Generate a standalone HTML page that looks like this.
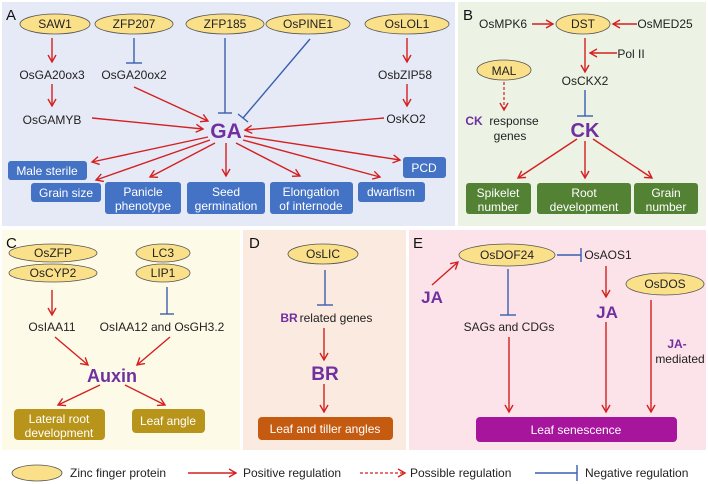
<!DOCTYPE html>
<html><head><meta charset="utf-8"><style>
body{margin:0;background:#fff}
svg{display:block;font-family:"Liberation Sans",sans-serif}
</style></head><body>
<svg width="708" height="484" viewBox="0 0 708 484" xmlns="http://www.w3.org/2000/svg">
<defs>
<marker id="ar" markerWidth="10" markerHeight="10" refX="8" refY="5" orient="auto" markerUnits="userSpaceOnUse"><path d="M1,1 L8,5 L1,9" fill="none" stroke="#d42020" stroke-width="1.4"/></marker>
</defs>
<g>
<rect x="2" y="2" width="453" height="224" fill="#e6eaf6"/>
<rect x="458" y="2" width="248" height="224" fill="#ecf2e4"/>
<rect x="2" y="230" width="238" height="220" fill="#fdfbe8"/>
<rect x="243" y="230" width="163" height="220" fill="#fbeadf"/>
<rect x="409" y="230" width="297" height="220" fill="#fbe3e9"/>
</g>
<g font-size="15" fill="#111"><text x="6" y="20">A</text><text x="463" y="20">B</text><text x="6" y="248">C</text><text x="249" y="248">D</text><text x="413" y="248">E</text></g>

<g fill="#fbe08a" stroke="#555" stroke-width="0.8">
<ellipse cx="55" cy="24" rx="35" ry="10"/>
<ellipse cx="134" cy="24" rx="39" ry="10"/>
<ellipse cx="225" cy="24" rx="39" ry="10"/>
<ellipse cx="308" cy="24" rx="42" ry="10"/>
<ellipse cx="407" cy="24" rx="42" ry="10"/>
<ellipse cx="583" cy="24" rx="27" ry="10"/>
<ellipse cx="504" cy="70" rx="27" ry="10"/>
<ellipse cx="53" cy="253" rx="44" ry="9"/>
<ellipse cx="53" cy="273" rx="44" ry="9"/>
<ellipse cx="163" cy="253" rx="27" ry="9"/>
<ellipse cx="163" cy="273" rx="27" ry="9"/>
<ellipse cx="323" cy="254" rx="35" ry="10"/>
<ellipse cx="507" cy="255" rx="48" ry="11"/>
<ellipse cx="665" cy="284" rx="39" ry="11"/>
<ellipse cx="37" cy="473" rx="25" ry="8"/>
</g>
<g font-size="12" fill="#222" text-anchor="middle">
<text x="55" y="28">SAW1</text><text x="134" y="28">ZFP207</text><text x="225" y="28">ZFP185</text><text x="308" y="28">OsPINE1</text><text x="407" y="28">OsLOL1</text>
<text x="52" y="79">OsGA20ox3</text><text x="134" y="79">OsGA20ox2</text><text x="52" y="124">OsGAMYB</text>
<text x="405" y="79">OsbZIP58</text><text x="406" y="123">OsKO2</text>
<text x="583" y="28">DST</text><text x="503" y="28">OsMPK6</text><text x="665" y="28">OsMED25</text>
<text x="631" y="58">Pol II</text><text x="585" y="85">OsCKX2</text><text x="504" y="75">MAL</text>
<text x="514" y="125">response</text><text x="510" y="140">genes</text>
<text x="53" y="257">OsZFP</text><text x="53" y="277">OsCYP2</text><text x="163" y="257">LC3</text><text x="163" y="277">LIP1</text>
<text x="52" y="331">OsIAA11</text><text x="162" y="331">OsIAA12 and OsGH3.2</text>
<text x="323" y="258">OsLIC</text><text x="336" y="322">related genes</text>
<text x="507" y="259">OsDOF24</text><text x="608" y="259">OsAOS1</text><text x="665" y="288">OsDOS</text>
<text x="509" y="331">SAGs and CDGs</text><text x="680" y="363">mediated</text>
</g>
<g fill="#7030a0" font-weight="bold" text-anchor="middle">
<text x="226" y="138" font-size="21">GA</text>
<text x="585" y="137" font-size="20">CK</text>
<text x="474" y="125" font-size="12">CK</text>
<text x="112" y="382" font-size="18">Auxin</text>
<text x="289" y="322" font-size="12">BR</text>
<text x="325" y="380" font-size="19">BR</text>
<text x="432" y="303" font-size="17">JA</text>
<text x="607" y="318" font-size="17">JA</text>
<text x="677" y="348" font-size="12">JA-</text>
</g>

<g stroke="#d42020" stroke-width="1.4" fill="none" marker-end="url(#ar)">
<line x1="52" y1="38" x2="52" y2="62"/><line x1="52" y1="84" x2="52" y2="106"/>
<line x1="134" y1="87" x2="208" y2="121"/><line x1="92" y1="118" x2="203" y2="129"/>
<line x1="407" y1="38" x2="407" y2="62"/><line x1="407" y1="84" x2="407" y2="106"/>
<line x1="384" y1="118" x2="245" y2="130"/>
<line x1="208" y1="137" x2="92" y2="162"/>
<line x1="210" y1="140" x2="96" y2="180"/>
<line x1="215" y1="143" x2="150" y2="177"/>
<line x1="226" y1="143" x2="226" y2="176"/>
<line x1="236" y1="143" x2="300" y2="176"/>
<line x1="243" y1="140" x2="380" y2="177"/>
<line x1="244" y1="136" x2="400" y2="160"/>
<line x1="532" y1="24" x2="553" y2="24"/><line x1="637" y1="24" x2="613" y2="24"/>
<line x1="585" y1="38" x2="585" y2="72"/><line x1="617" y1="53" x2="590" y2="53"/>
<line x1="577" y1="139" x2="518" y2="178"/><line x1="585" y1="141" x2="585" y2="178"/><line x1="593" y1="139" x2="652" y2="178"/>
<line x1="52" y1="290" x2="52" y2="315"/>
<line x1="55" y1="337" x2="88" y2="365"/><line x1="170" y1="337" x2="137" y2="365"/>
<line x1="100" y1="385" x2="58" y2="405"/><line x1="125" y1="385" x2="165" y2="405"/>
<line x1="324" y1="328" x2="324" y2="360"/><line x1="324" y1="384" x2="324" y2="412"/>
<line x1="432" y1="285" x2="458" y2="262"/>
<line x1="606" y1="266" x2="606" y2="297"/>
<line x1="509" y1="337" x2="509" y2="412"/><line x1="606" y1="322" x2="606" y2="412"/><line x1="651" y1="300" x2="651" y2="412"/>
<line x1="188" y1="473" x2="236" y2="473"/>
</g>
<g stroke="#d42020" stroke-width="1.2" fill="none" stroke-dasharray="3,2">
<line x1="504" y1="82" x2="504" y2="110" marker-end="url(#ar)"/>
<line x1="360" y1="473" x2="405" y2="473" marker-end="url(#ar)"/>
</g>
<g stroke="#3a5fad" stroke-width="1.4" fill="none">
<line x1="134" y1="38" x2="134" y2="63"/><line x1="126" y1="63" x2="142" y2="63"/>
<line x1="225" y1="38" x2="225" y2="113"/><line x1="218" y1="113" x2="232" y2="113"/>
<line x1="310" y1="39" x2="243" y2="118"/><line x1="238" y1="114" x2="248" y2="122"/>
<line x1="585" y1="90" x2="585" y2="116"/><line x1="577" y1="116" x2="593" y2="116"/>
<line x1="167" y1="287" x2="167" y2="314"/><line x1="160" y1="314" x2="174" y2="314"/>
<line x1="325" y1="270" x2="325" y2="305"/><line x1="317" y1="305" x2="333" y2="305"/>
<line x1="508" y1="269" x2="508" y2="315"/><line x1="500" y1="315" x2="516" y2="315"/>
<line x1="557" y1="255" x2="581" y2="255"/><line x1="581" y1="248" x2="581" y2="262"/>
<line x1="535" y1="473" x2="577" y2="473"/><line x1="577" y1="465" x2="577" y2="481"/>
</g>

<g font-size="12" fill="#fff" text-anchor="middle">
<rect x="8" y="161" width="79" height="19" rx="3" fill="#4472c4"/><text x="47" y="175">Male sterile</text>
<rect x="31" y="183" width="70" height="19" rx="3" fill="#4472c4"/><text x="66" y="197">Grain size</text>
<rect x="105" y="182" width="76" height="32" rx="3" fill="#4472c4"/><text x="143" y="196">Panicle</text><text x="143" y="210">phenotype</text>
<rect x="187" y="182" width="78" height="32" rx="3" fill="#4472c4"/><text x="226" y="196">Seed</text><text x="226" y="210">germination</text>
<rect x="270" y="182" width="83" height="32" rx="3" fill="#4472c4"/><text x="311" y="196">Elongation</text><text x="311" y="210">of internode</text>
<rect x="358" y="182" width="67" height="20" rx="3" fill="#4472c4"/><text x="391" y="196">dwarfism</text>
<rect x="403" y="157" width="43" height="21" rx="3" fill="#4472c4"/><text x="424" y="172">PCD</text>
<rect x="466" y="183" width="65" height="31" rx="3" fill="#548235"/><text x="498" y="197">Spikelet</text><text x="498" y="211">number</text>
<rect x="537" y="183" width="94" height="31" rx="3" fill="#548235"/><text x="584" y="197">Root</text><text x="584" y="211">development</text>
<rect x="634" y="183" width="64" height="31" rx="3" fill="#548235"/><text x="666" y="197">Grain</text><text x="666" y="211">number</text>
<rect x="14" y="409" width="91" height="31" rx="4" fill="#b8951a"/><text x="59" y="423">Lateral root</text><text x="59" y="437">development</text>
<rect x="132" y="409" width="73" height="24" rx="4" fill="#b8951a"/><text x="168" y="425">Leaf angle</text>
<rect x="258" y="417" width="135" height="23" rx="4" fill="#c55a11"/><text x="325" y="433">Leaf and tiller angles</text>
<rect x="476" y="417" width="201" height="25" rx="4" fill="#a6159c"/><text x="576" y="434">Leaf senescence</text>
</g>
<g font-size="12" fill="#222">
<text x="70" y="477">Zinc finger protein</text>
<text x="243" y="477">Positive regulation</text>
<text x="410" y="477">Possible regulation</text>
<text x="585" y="477">Negative regulation</text>
</g>
</svg>
</body></html>
